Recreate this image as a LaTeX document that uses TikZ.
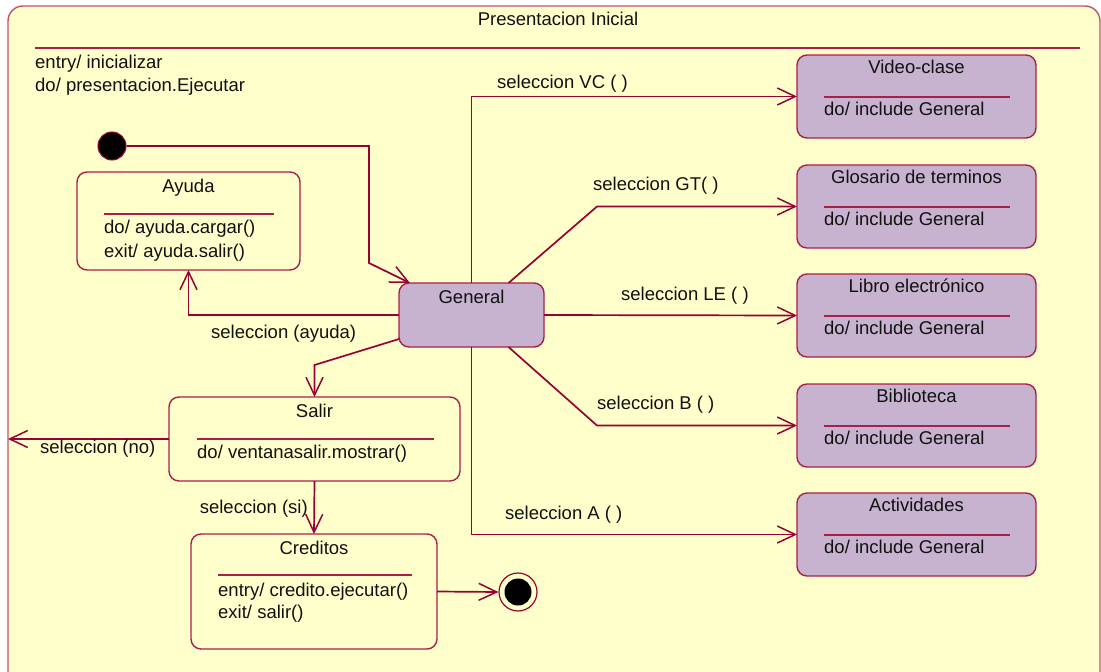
\documentclass[tikz,border=0pt]{standalone}
\usepackage{fontspec}
\setmainfont{Liberation Sans}
\usetikzlibrary{arrows.meta}

\definecolor{bgyellow}{RGB}{255,255,204}
\definecolor{wine}{RGB}{153,0,51}
\definecolor{boxline}{RGB}{170,30,75}
\definecolor{outerline}{RGB}{196,80,110}
\definecolor{lilac}{RGB}{199,179,207}
\definecolor{ink}{RGB}{17,17,17}

\tikzset{
  every node/.style={font=\fontsize{18.5}{22}\selectfont, text=ink},
  statebox/.style={draw=boxline, line width=1.4pt, rounded corners=10pt,
                   fill=bgyellow, inner sep=0pt, outer sep=0pt},
  subbox/.style={statebox, fill=lilac},
  title/.style={anchor=base, inner sep=0pt},
  body/.style={anchor=base west, inner sep=0pt},
  lbl/.style={anchor=base west, inner sep=0pt},
  sepline/.style={draw=boxline, line width=1.1pt},
  conn/.style={draw=wine, line width=1.7pt,
               -{Straight Barb[length=18pt,width=17pt,line width=1.5pt]}},
}

\begin{document}
\begin{tikzpicture}[x=1pt,y=-1pt]
\useasboundingbox (0,0) rectangle (1101,672);
\fill[white] (0,0) rectangle (1101,672);

% composite state
\begin{scope}
  \clip (0,0) rectangle (1101,672);
  \draw[draw=outerline, line width=1.4pt, fill=bgyellow, rounded corners=15pt]
    (8,6) rectangle (1100,700);
\end{scope}
\node[title] (pTitle) at (558,25) {Presentacion Inicial};
\draw[sepline] (35,48) -- (1080,48);
\node[body] (pEntry) at (35,68) {entry/ inicializar};
\node[body] (pDo) at (35,91) {do/ presentacion.Ejecutar};

% initial and final pseudo-states
\node[circle, fill=black, draw=wine, line width=1pt, minimum size=28pt, inner sep=0pt] (init) at (112,146) {};
\node[circle, fill=bgyellow, draw=wine, line width=1.2pt, minimum size=38pt, inner sep=0pt] (final) at (518,592) {};
\node[circle, fill=black, minimum size=27pt, inner sep=0pt] (finalDot) at (518,592) {};

% Ayuda
\node[statebox, minimum width=223pt, minimum height=98pt] (ayuda) at (188.5,221) {};
\node[title] (ayudaT) at (188.5,192) {Ayuda};
\draw[sepline] (104,214) -- (274,214);
\node[body] (ayudaB1) at (104,233) {do/ ayuda.cargar()};
\node[body] (ayudaB2) at (104,257) {exit/ ayuda.salir()};

% General
\node[subbox, minimum width=145pt, minimum height=64pt] (general) at (471.5,315) {};
\node[title] (generalT) at (471.5,303) {General};

% Salir
\node[statebox, minimum width=291pt, minimum height=84pt] (salir) at (314.5,439) {};
\node[title] (salirT) at (314.5,417) {Salir};
\draw[sepline] (197,439) -- (434,439);
\node[body] (salirB) at (197,458) {do/ ventanasalir.mostrar()};

% Creditos
\node[statebox, minimum width=246pt, minimum height=115pt] (creditos) at (314,591.5) {};
\node[title] (creditosT) at (314,554) {Creditos};
\draw[sepline] (218,575) -- (412,575);
\node[body] (creditosB1) at (218,596) {entry/ credito.ejecutar()};
\node[body] (creditosB2) at (218,618) {exit/ salir()};

% sub-states on the right
\foreach \nm/\ttl/\top in {vc/Video-clase/55, gt/Glosario de terminos/165,
                           le/Libro electrónico/274, bib/Biblioteca/384,
                           act/Actividades/493}{
  \node[subbox, minimum width=239pt, minimum height=83pt] (\nm) at (916.5,\top+41.5) {};
  \node[title] (\nm T) at (916.5,\top+18) {\ttl};
  \draw[sepline] (824,\top+42) -- (1010,\top+42);
  \node[body] (\nm B) at (824,\top+60) {do/ include General};
}

% exit point on the composite border
\coordinate (exitL) at (8,439);

% transitions
\draw[conn] (init.east) -| (369,263) -- ([xshift=11pt]general.north west);
\draw[conn] (general.west) -| (ayuda.south);
\draw[conn] ([yshift=-24pt]general.west) -- (314.5,365) -- (salir.north);
\draw[conn] (salir.west) -- (exitL);
\draw[conn] (salir.south) -- (creditos.north);
\draw[conn] (creditos.east) -- (final.west);

\draw[conn] (general.north) -- (general.north |- vc.west) -- (vc.west);
\draw[conn] ([xshift=37pt]general.north) -- (597,206.5) -- (gt.west);
\draw[conn] (general.east) -- (le.west);
\draw[conn] ([xshift=37pt]general.south) -- (597,425.5) -- (bib.west);
\draw[conn] (general.south) -- (general.south |- act.west) -- (act.west);

% transition labels
\node[lbl] (lAyuda) at (211,338) {seleccion (ayuda)};
\node[lbl] (lNo) at (40,453) {seleccion (no)};
\node[anchor=base east, inner sep=0pt] (lSi) at (308,513) {seleccion (si)};
\node[lbl] (lVC) at (497,88) {seleccion VC ( )};
\node[lbl] (lGT) at (593,190) {seleccion GT( )};
\node[lbl] (lLE) at (621,300) {seleccion LE ( )};
\node[lbl] (lB) at (597,409) {seleccion B ( )};
\node[lbl] (lA) at (505,519) {seleccion A ( )};
\end{tikzpicture}
\end{document}
